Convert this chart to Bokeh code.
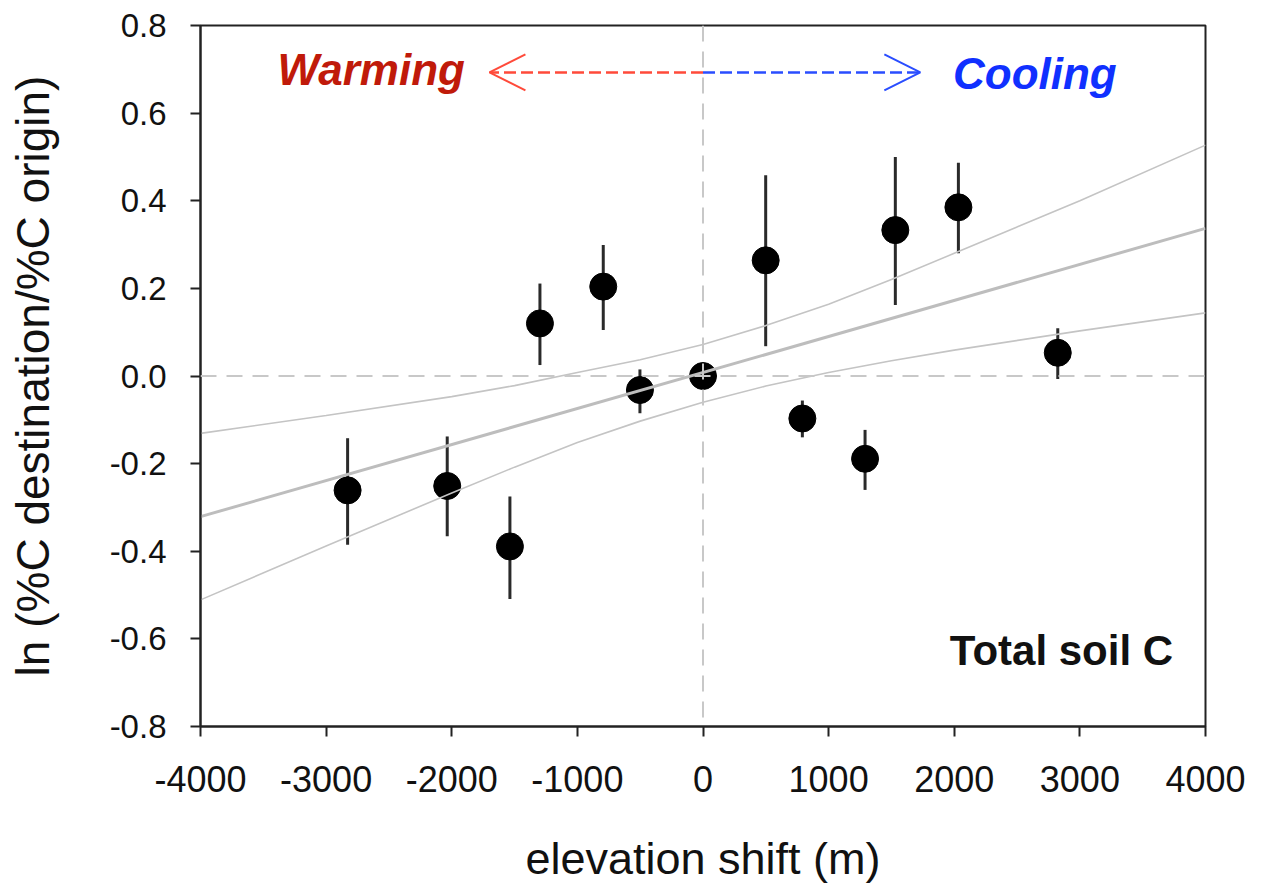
from bokeh.plotting import figure
from bokeh.models import Range1d, FixedTicker, NumeralTickFormatter, Span, Arrow, OpenHead, Label, ColumnDataSource
from bokeh.embed import file_html
from bokeh.resources import INLINE

# ---- data ----
elev = [-2829, -2036, -1537, -1298, -794, -502, 0, 499, 791, 1290, 1531, 2033, 2824]
ln_c = [-0.261, -0.251, -0.389, 0.120, 0.204, -0.032, 0.0, 0.264, -0.097, -0.189, 0.333, 0.385, 0.053]
err_hi = [-0.142, -0.138, -0.275, 0.211, 0.299, 0.015, 0.0, 0.458, -0.056, -0.123, 0.500, 0.487, 0.109]
err_lo = [-0.385, -0.366, -0.509, 0.025, 0.105, -0.085, 0.0, 0.068, -0.140, -0.260, 0.162, 0.280, -0.007]

fit_x = [-4000, 4000]
fit_y = [-0.321, 0.337]

band_x = [-4000, -3000, -2000, -1500, -1000, -500, 0, 500, 1000, 1500, 2000, 3000, 4000]
band_upper = [-0.131, -0.090, -0.047, -0.022, 0.008, 0.037, 0.072, 0.115, 0.164, 0.220, 0.280, 0.400, 0.527]
band_lower = [-0.511, -0.388, -0.267, -0.208, -0.152, -0.103, -0.060, -0.023, 0.008, 0.035, 0.059, 0.103, 0.144]

x_ticks = [-4000, -3000, -2000, -1000, 0, 1000, 2000, 3000, 4000]
y_ticks = [-0.8, -0.6, -0.4, -0.2, 0.0, 0.2, 0.4, 0.6, 0.8]

arrow_y = 0.693
warm_arrow_end = -1700
cool_arrow_end = 1730

FONT = "Liberation Sans"

p = figure(width=1245, height=886, output_backend="svg", toolbar_location=None,
           x_range=Range1d(-4000, 4000), y_range=Range1d(-0.8, 0.8),
           min_border_left=200, min_border_right=40, min_border_top=25, min_border_bottom=159)
p.grid.visible = False
p.outline_line_color = "#222222"
p.outline_line_width = 2
p.background_fill_color = "white"
p.border_fill_color = "white"

for ax in (p.xaxis[0], p.yaxis[0]):
    ax.axis_line_color = "#222222"
    ax.axis_line_width = 2
    ax.major_tick_line_color = "#222222"
    ax.major_tick_line_width = 2
    ax.major_tick_out = 10
    ax.major_tick_in = 0
    ax.minor_tick_line_color = None
    ax.major_label_text_font = FONT
    ax.major_label_text_color = "#111111"
    ax.axis_label_text_font = FONT
    ax.axis_label_text_font_style = "normal"
    ax.axis_label_text_color = "#111111"

p.xaxis.ticker = FixedTicker(ticks=x_ticks)
p.yaxis.ticker = FixedTicker(ticks=y_ticks)
p.xaxis.formatter = NumeralTickFormatter(format="0")
p.yaxis.formatter = NumeralTickFormatter(format="0.0")
p.xaxis.major_label_text_font_size = "36px"
p.yaxis.major_label_text_font_size = "33px"
p.xaxis.major_label_standoff = 29
p.yaxis.major_label_standoff = 24
p.xaxis.axis_label = "elevation shift (m)"
p.yaxis.axis_label = "ln (%C destination/%C origin)"
p.xaxis.axis_label_text_font_size = "45px"
p.yaxis.axis_label_text_font_size = "46px"
p.xaxis.axis_label_standoff = 38
p.yaxis.axis_label_standoff = 48

# zero reference lines
p.add_layout(Span(location=0, dimension="width", line_color="#c8c8c8", line_width=2, line_dash="16 10"))
p.add_layout(Span(location=0, dimension="height", line_color="#c8c8c8", line_width=2, line_dash="16 10"))

# data
src = ColumnDataSource(dict(x=elev, y=ln_c, hi=err_hi, lo=err_lo))
p.segment(x0="x", y0="lo", x1="x", y1="hi", source=src, line_color="#2a2a2a", line_width=3)
p.scatter(x="x", y="y", source=src, size=27, fill_color="black", line_color="black")

# regression line and confidence band
p.line(band_x, band_upper, line_color="#c4c4c4", line_width=1.6)
p.line(band_x, band_lower, line_color="#c4c4c4", line_width=1.6)
p.line(fit_x, fit_y, line_color="#bdbdbd", line_width=3)

# arrows
p.add_layout(Arrow(end=OpenHead(line_color="#ff4a3a", line_width=2, size=36),
                   x_start=0, y_start=arrow_y, x_end=warm_arrow_end, y_end=arrow_y,
                   line_color="#ff4a3a", line_width=2.5, line_dash="12 5"))
p.add_layout(Arrow(end=OpenHead(line_color="#2a4dff", line_width=2, size=36),
                   x_start=0, y_start=arrow_y, x_end=cool_arrow_end, y_end=arrow_y,
                   line_color="#2a4dff", line_width=2.5, line_dash="12 5"))

p.add_layout(Label(x=-1895, y=0.70, text="Warming", text_align="right", text_baseline="middle",
                   text_font=FONT, text_font_size="44px", text_font_style="bold italic",
                   text_color="#c01a0a"))
p.add_layout(Label(x=1990, y=0.69, text="Cooling", text_align="left", text_baseline="middle",
                   text_font=FONT, text_font_size="44px", text_font_style="bold italic",
                   text_color="#1030ff"))
p.add_layout(Label(x=3742, y=-0.627, text="Total soil C", text_align="right", text_baseline="middle",
                   text_font=FONT, text_font_size="42px", text_font_style="bold",
                   text_color="#111111"))

open("out.html", "w").write(file_html(p, INLINE))
